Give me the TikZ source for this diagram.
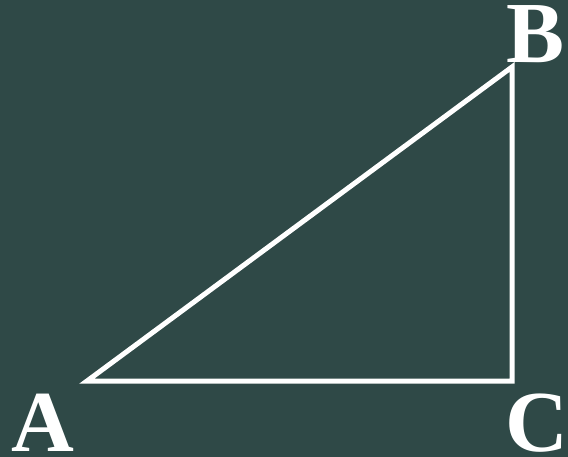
\documentclass[tikz,border=0pt]{standalone}
\usepackage{fontspec}
\setmainfont{Liberation Serif}
\definecolor{board}{RGB}{47,73,71}
\begin{document}
\begin{tikzpicture}[x=1pt,y=-1pt,
  edge/.style={draw=white,line width=5pt,line join=miter},
  lbl/.style={text=white,inner sep=0pt,anchor=base,font=\fontsize{87}{87}\selectfont\bfseries}]
\fill[board] (0,0) rectangle (568,457);
\useasboundingbox (0,0) rectangle (568,457);
\coordinate (A) at (87,381);
\coordinate (C) at (512,381);
\coordinate (B) at (512,67);
\draw[edge] (A) -- (C) -- (B) -- cycle;
\node[lbl] (la) at (43,451) {A};
\node[lbl] (lb) at (536,63) {B};
\node[lbl] (lc) at (537,451) {C};
\end{tikzpicture}
\end{document}
